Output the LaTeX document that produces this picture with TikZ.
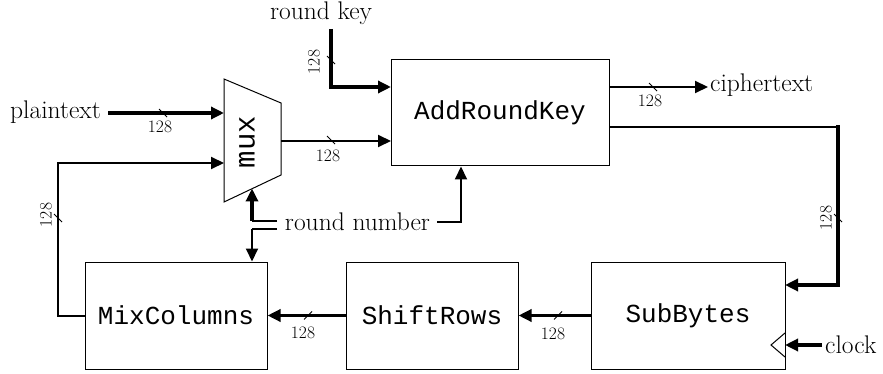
\documentclass[tikz,border=0pt]{standalone}
\usepackage{fontspec}
\newfontfamily\monofont{Liberation Mono}
\usetikzlibrary{arrows.meta}
\tikzset{
  box/.style={draw, line width=1pt, minimum width=#1, minimum height=107pt, inner sep=0pt,
    font=\monofont\fontsize{26}{30}\selectfont},
  lbl/.style={font=\fontsize{25.5}{29}\selectfont, inner sep=0pt},
  num/.style={font=\fontsize{17.5}{20}\selectfont, inner sep=0pt},
  tip/.style={-{Triangle[length=13pt,width=12pt]}},
  heavy/.style={line width=3.5pt},
  medium/.style={line width=2pt},
  fine/.style={line width=1.4pt},
  tickmark/.style={line width=0.8pt},
}
\begin{document}
\begin{tikzpicture}[x=1pt,y=-1pt]
\useasboundingbox (0,0) rectangle (883,374);

% blocks
\node[box=218pt, minimum height=106pt] (ark) at (500,113) {AddRoundKey};
\node[box=182pt] (mix) at (176,315.5) {MixColumns};
\node[box=172pt] (shr) at (432,315.5) {ShiftRows};
\node[box=194pt] (sub) at (688,315.5) {SubBytes};

% multiplexer
\coordinate (mtl) at (224,79);
\coordinate (mbl) at (224,202);
\coordinate (mtr) at (281,103);
\coordinate (mbr) at (281,175);
\draw[line width=1pt] (mtl) -- (mtr) -- (mbr) -- (mbl) -- cycle;
\node[rotate=90, inner sep=0pt, font=\monofont\fontsize{29}{30}\selectfont] (mux) at (247,142) {mux};
\coordinate (in1) at (224,113);
\coordinate (in2) at (224,163);
\coordinate (mout) at (281,141);
\coordinate (msel) at (252,188.5);

% texts
\node[lbl, anchor=east] (pt) at (101,112) {plaintext};
\node[lbl] (rk) at (321,13) {round key};
\node[lbl, anchor=west] (ct) at (710,85) {ciphertext};
\node[lbl, anchor=west] (clk) at (825,345) {clock};
\node[lbl] (rn) at (357.5,221.5) {round number};

% connection points
\coordinate (ptout) at (108,113);
\coordinate (rktop) at (331,29);
\coordinate (arkin1) at (391,87);
\coordinate (arkin2) at (391,141);
\coordinate (arkct) at (609,87);
\coordinate (arkout) at (609,127);
\coordinate (rc) at (838,127);
\coordinate (subin) at (785,285);
\coordinate (clkin) at (785,345);
\coordinate (clkout) at (822,345);
\coordinate (rnL1) at (277,221);
\coordinate (rnL2) at (277,229);
\coordinate (rnR) at (437,222);
\coordinate (j1) at (252,221);
\coordinate (j2) at (252,229);

% connectors
\draw[heavy, tip] (ptout) -- (in1);
\draw[medium, tip] (mix.west) -- ++(-27,0) |- (in2);
\draw[medium, tip] (mout) -- (arkin2);
\draw[heavy, tip] (rktop) |- (arkin1);
\draw[medium, tip] (arkct) -- ([xshift=-2pt]ct.west |- arkct);
\draw[medium] (arkout) -- (rc);
\draw[heavy, tip, line cap=rect] (rc) |- (subin);
\draw[heavy, tip] (sub.west) -- (shr.east);
\draw[heavy, tip] (shr.west) -- (mix.east);
\draw[heavy, tip] (clkout) -- (clkin);
\draw[line width=1pt] ([yshift=12pt]clkin) -- ++(-14,12) -- ++(14,12);
\draw[fine] (rnL1) -- (j1);
\draw[heavy, tip] (j1) -- (msel);
\draw[fine] (rnL2) -- (j2);
\draw[medium, tip] (j2) -- (mix.north -| j2);
\draw[medium, tip] (rnR) -| (ark.south -| 461,0);

% bus width marks
\foreach \px/\py in {163/113, 331/140, 331/60, 58/218, 653/87, 838/218}
  \draw[tickmark] (\px-4,\py-4) -- (\px+4,\py+4);
\foreach \px/\py in {308/315.5, 558/315.5}
  \draw[tickmark] (\px-4,\py+4) -- (\px+4,\py-4);
\node[num] (w1) at (160,127) {128};
\node[num] (w2) at (328,156) {128};
\node[num, rotate=90] (w3) at (314,62) {128};
\node[num, rotate=90] (w4) at (46,215) {128};
\node[num] (w5) at (650,101) {128};
\node[num, rotate=90] (w6) at (826,218) {128};
\node[num] (w7) at (303,333) {128};
\node[num] (w8) at (553,334) {128};
\end{tikzpicture}
\end{document}
